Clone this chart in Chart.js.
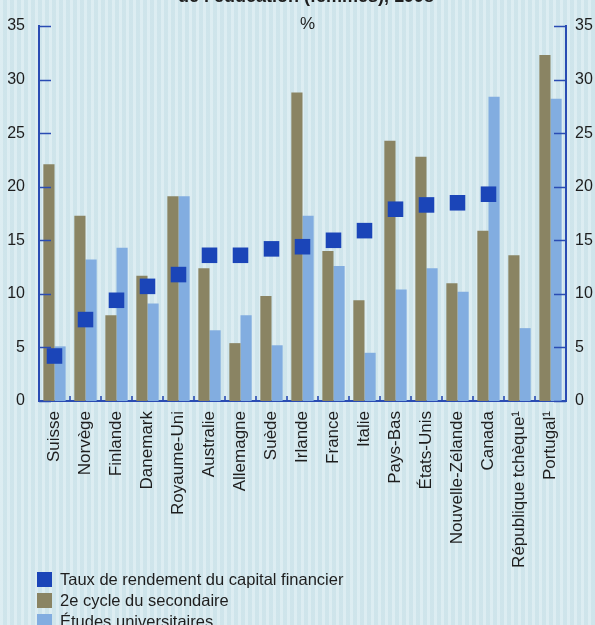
<!DOCTYPE html>
<html>
<head>
<meta charset="utf-8">
<script src="https://cdn.jsdelivr.net/npm/chart.js@4"></script>
<style>
  html, body { margin:0; padding:0; }
  body {
    width:595px; height:625px; overflow:hidden; position:relative;
    background-color:#d5e9ef;
    background-image: repeating-linear-gradient(90deg, rgba(255,255,255,0.18) 0px, rgba(255,255,255,0.18) 3px, rgba(150,190,200,0.10) 3px, rgba(150,190,200,0.10) 7px);
    font-family: "Liberation Sans Narrow", "Liberation Sans", "Roboto", sans-serif;
    color:#1e1e1e;
  }
  #wrap { position:absolute; left:0; top:0; width:595px; height:625px; }
  #title { position:absolute; left:0; width:612px; top:-14px; text-align:center; font-weight:bold; font-size:18px; white-space:nowrap; }
  #pct { position:absolute; left:300px; top:14px; font-size:17px; }
  #legend { position:absolute; left:37px; top:569px; font-size:16.5px; }
  .row { display:flex; align-items:center; height:21px; }
  .sw { width:15px; height:15px; margin-right:8px; }
</style>
</head>
<body>
<div id="wrap"><canvas id="c" width="595" height="625"></canvas></div>
<div id="title">de l’éducation (femmes), 1998</div>
<div id="pct">%</div>
<div id="legend"></div>
<script>
const categories = ["Suisse","Norvège","Finlande","Danemark","Royaume-Uni","Australie","Allemagne","Suède","Irlande","France","Italie","Pays-Bas","États-Unis","Nouvelle-Zélande","Canada","République tchèque¹","Portugal¹"];
const capitalFinancier = [4.2, 7.6, 9.4, 10.7, 11.8, 13.6, 13.6, 14.2, 14.4, 15.0, 15.9, 17.9, 18.3, 18.5, 19.3, null, null];
const secondaire = [22.1, 17.3, 8.0, 11.7, 19.1, 12.4, 5.4, 9.8, 28.8, 14.0, 9.4, 24.3, 22.8, 11.0, 15.9, 13.6, 32.3];
const universitaires = [5.1, 13.2, 14.3, 9.1, 19.1, 6.6, 8.0, 5.2, 17.3, 12.6, 4.5, 10.4, 12.4, 10.2, 28.4, 6.8, 28.2];
const yTicks = [0, 5, 10, 15, 20, 25, 30, 35];
const seriesNames = ["Taux de rendement du capital financier", "2e cycle du secondaire", "Études universitaires"];

const AXIS = "#2a4cb3";
const C_MARK = "#1b45b8";
const C_OLIVE = "#8a8463";
const C_LIGHT = "#82ade0";
const FONT = "'Liberation Sans Narrow', 'Liberation Sans', Roboto, sans-serif";

const inTicks = {
  id: 'inTicks',
  afterDraw(chart) {
    const { ctx, chartArea: a, scales } = chart;
    ctx.save();
    ctx.strokeStyle = AXIS;
    ctx.lineWidth = 1.6;
    ctx.beginPath();
    scales.y.ticks.forEach(t => {
      const py = Math.round(scales.y.getPixelForValue(t.value)) + 0.5;
      ctx.moveTo(a.left, py); ctx.lineTo(a.left + 12, py);
    });
    scales.y2.ticks.forEach(t => {
      const py = Math.round(scales.y2.getPixelForValue(t.value)) + 0.5;
      ctx.moveTo(a.right - 12, py); ctx.lineTo(a.right, py);
    });
    for (let i = 1; i < categories.length; i++) {
      const bx = (scales.x.getPixelForValue(i - 1) + scales.x.getPixelForValue(i)) / 2;
      ctx.moveTo(bx, a.bottom); ctx.lineTo(bx, a.bottom - 5);
    }
    ctx.stroke();
    ctx.restore();
  }
};

const chart = new Chart(document.getElementById('c'), {
  type: 'bar',
  data: {
    labels: categories,
    datasets: [
      { type: 'line', label: seriesNames[0], data: capitalFinancier, showLine: false,
        pointStyle: 'rect', pointRadius: 11, pointHoverRadius: 11, pointBorderWidth: 0,
        backgroundColor: C_MARK, borderColor: C_MARK, order: 0, yAxisID: 'y' },
      { label: seriesNames[1], data: secondaire, backgroundColor: C_OLIVE, order: 1, yAxisID: 'y',
        categoryPercentage: 0.72, barPercentage: 1.0 },
      { label: seriesNames[2], data: universitaires, backgroundColor: C_LIGHT, order: 1, yAxisID: 'y',
        categoryPercentage: 0.72, barPercentage: 1.0 }
    ]
  },
  options: {
    responsive: false,
    animation: false,
    events: [],
    layout: { padding: { top: 26, left: 0, right: 0, bottom: 0 } },
    plugins: { legend: { display: false }, tooltip: { enabled: false }, title: { display: false } },
    scales: {
      x: {
        grid: { display: false, drawTicks: false },
        border: { display: true, color: AXIS, width: 2 },
        ticks: { autoSkip: false, minRotation: 90, maxRotation: 90, padding: 10,
                 color: '#1e1e1e', font: { family: FONT, size: 17 } },
        afterFit: s => { s.height = 224; }
      },
      y: {
        position: 'left', min: 0, max: 35,
        afterBuildTicks: s => { s.ticks = yTicks.map(v => ({ value: v })); },
        grid: { display: false, drawTicks: false },
        border: { display: true, color: AXIS, width: 2 },
        ticks: { padding: 14, color: '#1e1e1e', font: { family: FONT, size: 16 } },
        afterFit: s => { s.width = 39; }
      },
      y2: {
        position: 'right', min: 0, max: 35,
        afterBuildTicks: s => { s.ticks = yTicks.map(v => ({ value: v })); },
        grid: { display: false, drawTicks: false },
        border: { display: true, color: AXIS, width: 2 },
        ticks: { padding: 9, color: '#1e1e1e', font: { family: FONT, size: 16 } },
        afterFit: s => { s.width = 29; }
      }
    }
  },
  plugins: [inTicks]
});

// Legend built from the chart's datasets
const leg = document.getElementById('legend');
chart.data.datasets.forEach(ds => {
  const row = document.createElement('div'); row.className = 'row';
  const sw = document.createElement('div'); sw.className = 'sw'; sw.style.background = ds.backgroundColor;
  const tx = document.createElement('span'); tx.textContent = ds.label;
  row.appendChild(sw); row.appendChild(tx); leg.appendChild(row);
});
</script>
</body>
</html>
